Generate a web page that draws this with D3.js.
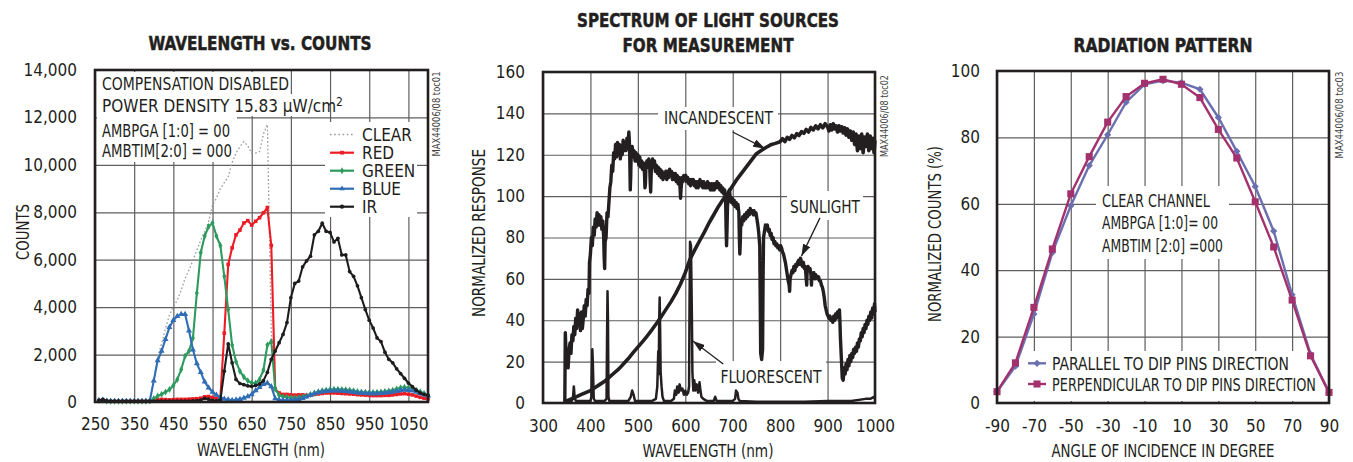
<!DOCTYPE html>
<html><head><meta charset="utf-8">
<script src="https://cdn.jsdelivr.net/npm/d3@7"></script>
<style>
html,body{margin:0;padding:0;background:#fff;}
svg{display:block;}
</style></head><body>
<svg id="c" width="1353" height="462"></svg>
<script>
// ---------- Panel 1: WAVELENGTH vs. COUNTS ----------
const wavelengths = [260,270,280,290,300,310,320,330,340,350,360,370,380,390,400,410,420,430,440,450,460,470,480,490,500,510,520,530,540,550,560,570,580,590,600,610,620,630,640,650,660,670,680,690,700,710,720,730,740,750,760,770,780,790,800,810,820,830,840,850,860,870,880,890,900,910,920,930,940,950,960,970,980,990,1000,1010,1020,1030,1040,1050,1060,1070,1080,1090,1100];
const clearCounts = [60,80,40,30,30,30,30,30,30,30,30,30,30,
  100,900,1900,2460,3100,3660,4010,4290,4720,5210,5560,5980,
  6400,6830,7180,7600,8300,8600,9000,9250,9500,10100,
  10500,10770,10980,10800,10490,10500,10560,11300,11700,3000,
  700,280,220,200,180,180,190,220,260,320,
  380,430,470,500,530,540,540,530,520,500,
  470,440,420,410,400,400,410,420,440,460,
  500,550,600,620,600,560,500,430,360,300];
const redCounts = [60,90,40,30,30,30,30,30,30,30,30,30,30,
  40,60,100,110,100,90,100,110,110,110,120,130,
  140,160,220,230,190,150,170,2900,5800,6500,
  7050,7250,7550,7650,7460,7620,7770,7980,8200,6600,
  550,380,320,320,300,290,300,300,280,300,
  320,340,360,380,380,380,370,360,350,340,
  330,310,300,290,280,270,270,270,280,280,
  300,320,340,350,330,300,250,200,160,130];
const greenCounts = [60,80,40,30,30,30,30,30,30,30,30,30,30,
  40,150,250,330,420,530,700,950,1370,1940,2150,2700,
  4600,6300,7000,7400,7550,7000,6600,5300,3900,2400,
  1700,1300,1050,900,800,800,950,1350,2400,2550,
  550,280,220,200,180,180,190,220,260,320,
  380,430,470,500,530,540,540,530,520,500,
  470,440,420,410,400,400,410,420,440,460,
  500,550,600,620,600,560,500,430,360,300];
const blueCounts = [60,80,40,30,30,30,30,30,30,30,30,30,30,
  50,900,1750,2150,2650,3150,3450,3620,3700,3700,3000,2200,
  1620,1250,850,600,420,300,200,130,100,70,
  90,120,170,230,320,480,620,750,800,650,
  150,90,70,70,80,100,120,160,220,290,
  350,400,430,450,460,470,470,460,450,430,
  410,390,380,370,360,360,360,370,380,400,
  420,450,490,510,500,470,420,360,310,260];
const irCounts = [70,100,50,40,40,40,40,40,40,40,40,40,40,
  40,40,40,40,40,40,40,40,40,40,40,50,
  60,80,150,120,70,50,80,1300,2450,1650,
  950,780,730,680,660,700,760,900,1250,1800,
  2150,2500,2850,3350,4400,5000,5100,5700,5950,6150,
  7050,7200,7540,7200,7150,6750,6900,6200,6200,5500,
  5300,4900,4400,3900,3450,3120,2700,2550,2100,1800,
  1650,1400,1200,1000,800,650,500,380,320,280];
const p1XTicks = [250,350,450,550,650,750,850,950,1050];
const p1YTicks = [0,2000,4000,6000,8000,10000,12000,14000];
const p1Legend = ["CLEAR","RED","GREEN","BLUE","IR"];

// ---------- Panel 2: SPECTRUM OF LIGHT SOURCES ----------
const incandescent = [[345,0.5],[350,1],[360,2],[370,3],[380,4],[390,5],[400,6],[410,7.5],[420,9],[430,10.5],[440,12.5],[450,14.5],[460,16.5],[470,19],[480,21.5],[490,24.3],[500,27],[510,29.7],[520,32.5],[530,35.5],[540,38.7],[550,42],[560,45.5],[570,49],[580,53],[590,57.5],[600,63],[610,69.5],[620,74],[630,78.3],[640,82.5],[650,87],[660,91],[670,95],[680,98.5],[690,101.5],[700,105],[710,108.5],[720,111.5],[730,114.5],[740,117.5],[750,120.5],[760,122],[770,123.5],[780,124.8],[790,125.5],[800,126.3],[805,127.8],[810,126.4],[815,128.4],[820,127.4],[825,129.3],[830,128.2],[835,130.2],[840,129.3],[845,131.2],[850,130.3],[855,132.2],[860,131],[865,133.2],[870,132],[875,134],[880,132.5],[885,134.5],[890,133],[895,135],[900,133.5],[903,131.5],[906,134.5],[909,132],[912,135],[915,132.5],[918,134],[921,131],[924,134],[927,131.5],[930,133.5],[933,130.5],[936,133],[939,129.5],[942,132.5],[945,128.5],[948,131.5],[951,127],[954,131],[957,125],[960,130],[963,122],[966,129],[969,123],[972,130],[975,121],[978,128.5],[981,124],[984,130],[987,122],[990,129],[993,123],[996,128],[998,121],[1000,127]];
const sunlight = [[346,0],[347,34],[348,28],[349,18],[351,23],[353,17],[355,26],[357,29],[359,24],[361,33],[363,30],[365,37],[367,33],[369,41],[371,36],[373,45],[375,38],[377,43],[379,35],[381,44],[383,36],[385,41],[387,47],[389,42],[391,50],[393,47],[395,55],[397,53],[398,68],[400,72],[402,80],[404,76],[406,85],[408,81],[410,89],[412,85],[414,92],[416,86],[418,91],[420,86],[422,90],[424,84],[426,88],[428,80],[429,70],[430,65],[431,78],[433,80],[435,92],[437,90],[439,97],[441,104],[443,107],[445,115],[447,112],[449,121],[451,118],[453,125],[455,119],[457,126],[459,120],[461,125],[463,118],[465,124],[467,120],[469,127],[471,122],[473,126],[475,122],[477,128],[479,124],[481,131],[482,127],[483,118],[484,103],[485,110],[486,121],[488,124],[490,119],[492,122],[494,117],[496,121],[498,117],[500,120],[502,115],[504,119],[506,114],[508,117],[510,113],[512,116],[514,111],[515,104],[516,106],[517,114],[519,117],[521,114],[523,118],[525,114],[526,107],[527,102],[528,110],[529,115],[531,118],[533,114],[535,117],[537,112],[539,115],[541,111],[543,114],[545,110],[547,113],[549,109],[551,112],[553,108],[555,111],[557,109],[559,112],[561,108],[563,112],[565,109],[567,113],[569,110],[571,112],[573,108],[575,111],[577,108],[579,111],[581,107],[583,110],[585,106],[587,109],[589,104],[590,99],[591,103],[593,109],[595,107],[597,110],[599,108],[601,110],[603,107],[605,109],[607,106],[609,108],[611,105],[613,108],[615,106],[617,108],[619,105],[621,107],[623,104],[625,107],[627,104],[629,106],[631,108],[633,105],[635,107],[637,104],[639,107],[641,104],[643,106],[645,104],[647,107],[649,104],[651,106],[653,103],[655,106],[657,103],[659,106],[661,103],[663,106],[665,104],[667,107],[669,104],[671,106],[673,103],[675,105],[677,102],[679,104],[681,101],[683,103],[685,99],[686,85],[687,76],[688,84],[689,95],[691,101],[693,103],[695,99],[697,97],[699,99],[701,96],[703,98],[705,95],[707,97],[709,94],[711,96],[713,92],[714,80],[715,72],[716,78],[717,88],[719,86],[721,90],[723,88],[725,91],[727,89],[729,92],[731,90],[733,93],[735,91],[737,94],[739,92],[741,93],[743,91],[745,93],[747,91],[749,92],[751,89],[753,86],[755,82],[757,76],[758,50],[759,24],[761,21],[763,26],[764,60],[765,80],[767,83],[769,86],[771,85],[773,86],[775,83],[777,84],[779,81],[781,82],[783,79],[785,80],[787,77],[789,78],[791,76],[793,77],[795,75],[797,76],[799,74],[801,76],[803,75],[805,73],[807,72],[809,70],[811,68],[813,65],[815,62],[817,59],[819,57],[820,54],[821,60],[823,62],[825,64],[827,63],[829,66],[831,64],[833,67],[835,66],[837,68],[839,69],[841,67],[843,70],[845,68],[847,66],[849,68],[851,65],[853,66],[855,60],[856,57],[857,64],[859,66],[861,64],[863,65],[865,62],[866,57],[867,63],[869,62],[871,63],[873,60],[875,62],[877,61],[879,60],[881,61],[883,59],[885,59],[887,57],[889,56],[891,54],[893,51],[895,47],[897,45],[899,43],[901,42],[903,41],[905,42],[907,40],[909,41],[911,39],[913,42],[915,40],[917,43],[919,41],[921,44],[923,43],[925,45],[926,40],[927,32],[929,22],[931,12],[933,11],[935,17],[937,14],[939,19],[941,16],[943,21],[945,18],[947,23],[949,20],[951,24],[953,22],[955,26],[957,24],[959,27],[961,25],[963,29],[965,27],[967,31],[969,30],[971,34],[973,32],[975,36],[977,34],[979,38],[981,36],[983,40],[985,38],[987,42],[989,40],[991,44],[993,41],[995,46],[997,43],[999,48],[1000,44]];
const fluorescent = [[346,0],[350,1],[360,1],[363,2],[365,8],[367,2],[370,1],[380,1],[390,1],[400,1],[402,3],[404,26],[405,20],[407,2],[410,1],[420,1],[430,1],[434,2],[435,30],[436,54],[437,40],[438,3],[440,1],[460,1],[480,1],[485,3],[488,6],[491,4],[494,1],[510,1],[530,1],[538,2],[541,8],[543,25],[544,14],[545,40],[546,51],[547,35],[548,15],[550,8],[552,3],[555,1],[570,1],[576,2],[578,6],[581,4],[583,8],[586,5],[588,9],[591,6],[594,7],[597,4],[600,6],[603,4],[606,5],[608,8],[609,50],[610,78],[612,76],[614,40],[615,15],[617,6],[619,11],[621,6],[624,9],[627,5],[630,10],[632,6],[634,3],[638,2],[645,1],[660,1],[663,3],[666,1],[680,1],[700,1],[705,2],[707,6],[710,5],[712,2],[715,1],[750,0.6],[800,0.6],[850,0.6],[900,1],[950,1],[980,2],[990,2],[998,3],[1000,2]];
const p2XTicks = [300,400,500,600,700,800,900,1000];
const p2YTicks = [0,20,40,60,80,100,120,140,160];

// ---------- Panel 3: RADIATION PATTERN ----------
const angles = [-90,-80,-70,-60,-50,-40,-30,-20,-10,0,10,20,30,40,50,60,70,80,90];
const parallelPct = [3.4,11.1,26.8,45.3,59.4,71.5,80.8,90.6,96,97.1,96.5,94.5,86,75.8,65.2,51.8,32.6,14.7,3.2];
const perpendicularPct = [3.4,12.1,28.8,46.4,63,74.2,84.6,92.3,96.3,97.5,96,92,82.4,73.8,60.6,47,31,14.2,3.2];
const p3XTicks = [-90,-70,-50,-30,-10,10,30,50,70,90];
const p3YTicks = [0,20,40,60,80,100];
const p3Legend = ["PARALLEL TO DIP PINS DIRECTION","PERPENDICULAR TO DIP PINS DIRECTION"];

// ---------- drawing ----------
const FONT = '"Liberation Sans Narrow","DejaVu Sans Condensed","Roboto Condensed",sans-serif';
const INK = '#231f20';
const C = {clear:'#9a9a9a', red:'#ed1c24', green:'#2e9b5e', blue:'#2f6db5', ir:'#1f1c1d', par:'#6a6fb0', perp:'#a3316d'};
const svg = d3.select('#c');
const layerGrid = svg.append('g');
const layerBox = svg.append('g');
const layerData = svg.append('g');
const layerFrame = svg.append('g');
const layerText = svg.append('g');

function txt(x, y, s, o = {}) {
  const t = layerText.append('text').attr('x', x).attr('y', y).text(s)
    .attr('font-family', FONT).attr('font-size', o.size || 17).attr('fill', o.fill || INK)
    .attr('text-anchor', o.anchor || 'start');
  if (o.weight) t.attr('font-weight', o.weight);
  if (o.len) t.attr('textLength', o.len).attr('lengthAdjust', 'spacingAndGlyphs');
  if (o.rot) t.attr('transform', `rotate(${o.rot},${x},${y})`);
  if (o.stroke) t.attr('stroke', o.fill || INK).attr('stroke-width', o.stroke);
  return t;
}
function box(x0, y0, x1, y1) {
  layerBox.append('rect').attr('x', x0).attr('y', y0).attr('width', x1 - x0).attr('height', y1 - y0).attr('fill', '#fff');
}
function panel(cfg) {
  const x = d3.scaleLinear().domain(cfg.xDomain).range([cfg.left, cfg.right]);
  const y = d3.scaleLinear().domain(cfg.yDomain).range([cfg.bottom, cfg.top]);
  const gx = layerGrid.append('g').attr('transform', `translate(0,${cfg.bottom})`)
    .call(d3.axisBottom(x).tickValues(cfg.xTicks).tickSize(-(cfg.bottom - cfg.top)).tickPadding(cfg.xPad).tickFormat(cfg.xFmt || (d => String(d))));
  const gy = layerGrid.append('g').attr('transform', `translate(${cfg.left},0)`)
    .call(d3.axisLeft(y).tickValues(cfg.yTicks).tickSize(-(cfg.right - cfg.left)).tickPadding(cfg.yPad).tickFormat(cfg.yFmt || (d => String(d))));
  [gx, gy].forEach(g => {
    g.select('.domain').remove();
    g.attr('font-family', FONT).attr('font-size', 17);
    g.selectAll('line').attr('stroke', '#5f5f5f').attr('stroke-width', 1.2);
    g.selectAll('text').attr('fill', INK);
  });
  layerFrame.append('rect').attr('x', cfg.left).attr('y', cfg.top)
    .attr('width', cfg.right - cfg.left).attr('height', cfg.bottom - cfg.top)
    .attr('fill', 'none').attr('stroke', INK).attr('stroke-width', 2.6);
  return {x, y};
}

// Panel 1
const P1 = panel({left:95, right:428, top:70, bottom:402, xDomain:[250,1100], yDomain:[0,14000],
  xTicks:p1XTicks, yTicks:p1YTicks, xPad:16, yPad:18, yFmt:d3.format(',')});
box(97, 72, 289, 94); box(97, 94, 320, 116); box(97, 116, 237, 162);
box(325, 122, 417, 217);
const l1 = d3.line().x((d, i) => P1.x(wavelengths[i])).y(d => P1.y(d));
layerData.append('path').attr('d', l1(clearCounts)).attr('fill', 'none').attr('stroke', C.clear).attr('stroke-width', 1.3).attr('stroke-dasharray', '1.6,2.2');
const series1 = [
  {v: redCounts, c: C.red, s: d3.symbolSquare, z: 13},
  {v: greenCounts, c: C.green, s: d3.symbolDiamond, z: 14},
  {v: blueCounts, c: C.blue, s: d3.symbolTriangle, z: 16},
  {v: irCounts, c: C.ir, s: d3.symbolCircle, z: 11}
];
series1.forEach(sr => {
  layerData.append('path').attr('d', l1(sr.v)).attr('fill', 'none').attr('stroke', sr.c).attr('stroke-width', 2.1).attr('stroke-linejoin', 'round');
  layerData.append('g').selectAll('path').data(sr.v).join('path')
    .attr('d', d3.symbol().type(sr.s).size(sr.z))
    .attr('transform', (d, i) => `translate(${P1.x(wavelengths[i])},${P1.y(d)})`)
    .attr('fill', sr.c);
});
// legend panel 1
const legY = [134.5, 152.7, 170.7, 188.7, 206.7];
const legC = [C.clear, C.red, C.green, C.blue, C.ir];
const legS = [null, d3.symbolSquare, d3.symbolDiamond, d3.symbolTriangle, d3.symbolCircle];
p1Legend.forEach((name, i) => {
  const ln = layerText.append('line').attr('x1', 330).attr('x2', 354).attr('y1', legY[i]).attr('y2', legY[i])
    .attr('stroke', legC[i]).attr('stroke-width', i === 0 ? 1.3 : 2.2);
  if (i === 0) ln.attr('stroke-dasharray', '1.6,2.6');
  else layerText.append('path').attr('d', d3.symbol().type(legS[i]).size(14)).attr('transform', `translate(342,${legY[i]})`).attr('fill', legC[i]);
  txt(362, legY[i] + 6.3, name);
});
txt(102, 90, 'COMPENSATION DISABLED', {len:187});
const pd = txt(102, 111.7, 'POWER DENSITY 15.83 μW/cm');
pd.append('tspan').text('2').attr('font-size', 12).attr('dy', -6);
txt(102, 136.5, 'AMBPGA [1:0] = 00', {len:128});
txt(102, 156.5, 'AMBTIM[2:0] = 000', {len:130});
txt(260, 50, 'WAVELENGTH vs. COUNTS', {anchor:'middle', size:20, weight:'bold', len:223, stroke:0.5});
txt(261, 456, 'WAVELENGTH (nm)', {anchor:'middle', len:128});
txt(29, 232, 'COUNTS', {anchor:'middle', rot:-90, len:56});
txt(440, 114, 'MAX44006/08 toc01', {anchor:'middle', rot:-90, size:10, len:85, fill:'#444'});

// Panel 2
const P2 = panel({left:543, right:875, top:72, bottom:403, xDomain:[300,1000], yDomain:[0,160],
  xTicks:p2XTicks, yTicks:p2YTicks, xPad:17, yPad:18});
box(658, 107, 778, 130); box(787, 191, 863, 220); box(716, 361, 826, 401);
const l2 = d3.line().x(d => P2.x(d[0])).y(d => P2.y(d[1]));
[[fluorescent, 2.5], [incandescent, 3.6], [sunlight, 3.4]].forEach(([dat, w]) => {
  layerData.append('path').attr('d', l2(dat)).attr('fill', 'none').attr('stroke', INK).attr('stroke-width', w).attr('stroke-linejoin', 'round');
});
const defs = svg.append('defs');
defs.append('marker').attr('id', 'ah').attr('viewBox', '0 0 12 8').attr('refX', 12).attr('refY', 4)
  .attr('markerWidth', 12).attr('markerHeight', 8).attr('markerUnits', 'userSpaceOnUse').attr('orient', 'auto')
  .append('path').attr('d', 'M0,0 L12,4 L0,8 Z').attr('fill', INK);
function arrow(p, a, b) {
  layerText.append('line').attr('x1', p.x(a[0])).attr('y1', p.y(a[1])).attr('x2', p.x(b[0])).attr('y2', p.y(b[1]))
    .attr('stroke', INK).attr('stroke-width', 1.3).attr('marker-end', 'url(#ah)');
}
arrow(P2, [700, 131], [768, 123]);
arrow(P2, [884, 89.5], [845, 71]);
arrow(P2, [680, 18.8], [616, 30]);
txt(718.5, 124, 'INCANDESCENT', {anchor:'middle', len:109});
txt(825, 212.7, 'SUNLIGHT', {anchor:'middle', len:70});
txt(771, 382.7, 'FLUORESCENT', {anchor:'middle', len:101});
txt(708, 26.7, 'SPECTRUM OF LIGHT SOURCES', {anchor:'middle', size:20, weight:'bold', len:262, stroke:0.5});
txt(708, 52.3, 'FOR MEASUREMENT', {anchor:'middle', size:20, weight:'bold', len:171, stroke:0.5});
txt(708, 457, 'WAVELENGTH (nm)', {anchor:'middle', len:131});
txt(485, 233, 'NORMALIZED RESPONSE', {anchor:'middle', rot:-90, len:168});
txt(888, 116, 'MAX44006/08 toc02', {anchor:'middle', rot:-90, size:10, len:82, fill:'#444'});

// Panel 3
const P3 = panel({left:997, right:1329, top:71, bottom:403, xDomain:[-90,90], yDomain:[0,100],
  xTicks:p3XTicks, yTicks:p3YTicks, xPad:17, yPad:17});
box(1096, 186, 1229, 259); box(1025, 351, 1318, 401);
const l3 = d3.line().x((d, i) => P3.x(angles[i])).y(d => P3.y(d));
[[parallelPct, C.par, 'diamond'], [perpendicularPct, C.perp, 'square']].forEach(([v, c, m]) => {
  layerData.append('path').attr('d', l3(v)).attr('fill', 'none').attr('stroke', c).attr('stroke-width', 2.4);
  layerData.append('g').selectAll('path').data(v).join('path')
    .attr('d', d3.symbol().type(d3.symbolSquare).size(m === 'square' ? 50 : 26))
    .attr('transform', (d, i) => `translate(${P3.x(angles[i])},${P3.y(d)}) rotate(${m === 'square' ? 0 : 45})`)
    .attr('fill', c);
});
[[363.3, C.par, 'diamond'], [384, C.perp, 'square']].forEach(([yy, c, m], i) => {
  layerText.append('line').attr('x1', 1028).attr('x2', 1046).attr('y1', yy).attr('y2', yy).attr('stroke', c).attr('stroke-width', 2.4);
  layerText.append('path').attr('d', d3.symbol().type(d3.symbolSquare).size(m === 'square' ? 50 : 26))
    .attr('transform', `translate(1037,${yy}) rotate(${m === 'square' ? 0 : 45})`).attr('fill', c);
  txt(1052, yy + 6.5, p3Legend[i], {len: i === 0 ? 237 : 264});
});
txt(1102, 206.7, 'CLEAR CHANNEL', {len:108});
txt(1102, 229.3, 'AMBPGA [1:0]= 00', {len:116});
txt(1102, 251.7, 'AMBTIM [2:0] =000', {len:121});
txt(1163, 51.5, 'RADIATION PATTERN', {anchor:'middle', size:20, weight:'bold', len:179, stroke:0.5});
txt(1163, 457, 'ANGLE OF INCIDENCE IN DEGREE', {anchor:'middle', len:223});
txt(941, 234, 'NORMALIZED COUNTS (%)', {anchor:'middle', rot:-90, len:176});
txt(1343, 115, 'MAX44006/08 toc03', {anchor:'middle', rot:-90, size:10, len:87, fill:'#444'});
</script>
</body></html>
